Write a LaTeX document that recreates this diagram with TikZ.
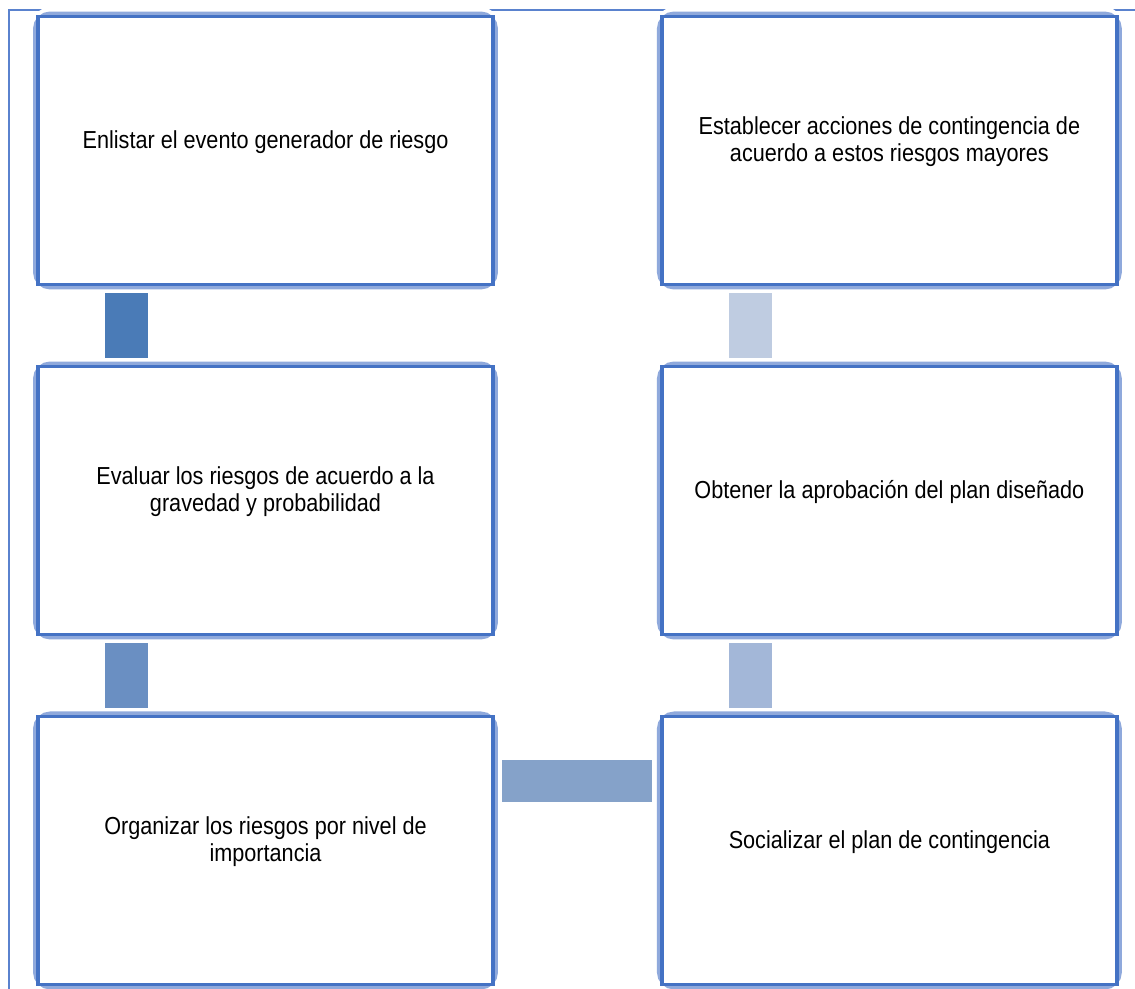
\documentclass[tikz,border=0pt]{standalone}
\usepackage{fontspec}
\setmainfont{Liberation Sans}[FakeStretch=0.88]
\usetikzlibrary{positioning}
\definecolor{borde}{HTML}{4472C4}
\definecolor{halo}{HTML}{8FA9DC}
\definecolor{marco}{HTML}{5A82CE}
\definecolor{pasoA}{HTML}{4A7BB7}
\definecolor{pasoB}{HTML}{6A8FC2}
\definecolor{pasoC}{HTML}{85A2C9}
\definecolor{pasoD}{HTML}{A3B7D8}
\definecolor{pasoE}{HTML}{BFCCE1}

\begin{document}
\begin{tikzpicture}[x = 0.02cm, y = -0.02cm,
    caja/.style = {draw = halo, line width = 5.7pt, rounded corners = 7pt, fill = white,
        preaction = {draw = white, line width = 10.2pt},
        minimum width = \ancho pt, minimum height = \alto pt,
        inner sep = 0pt, outer sep = 0pt},
    filo/.style = {draw = borde, fill = white, line width = 2.2pt},
    texto/.style = {align = center, inner sep = 0pt, font = \fontsize{14}{15.5}\selectfont}]
    % Parametri (in pt)
    \pgfmathsetmacro{\ancho}{258.9}
    \pgfmathsetmacro{\alto}{152.5}
    \pgfmathsetmacro{\sepv}{46.7}
    \pgfmathsetmacro{\seph}{96.2}
    \useasboundingbox (0,0) rectangle (1135,989);
    % Marco
    \draw[marco, line width = 0.85pt] (9,989) -- (9,10) -- (1135,10);
    % Cajas
    \node[caja] (b1) at (265.5,150.5) {};
    \node[caja, below = \sepv pt of b1] (b2) {};
    \node[caja, below = \sepv pt of b2] (b3) {};
    \node[caja, right = \seph pt of b3] (b4) {};
    \node[caja, above = \sepv pt of b4] (b5) {};
    \node[caja, above = \sepv pt of b5] (b6) {};
    \foreach \i in {1,...,6} {
        \draw[filo] (b\i.north west) rectangle (b\i.south east);
    }
    % Textos
    \node[texto] (t1) at ([yshift = 5pt]b1.center) {Enlistar el evento generador de riesgo};
    \node[texto] (t2) at ([yshift = 5pt]b2.center) {Evaluar los riesgos de acuerdo a la\\gravedad y probabilidad};
    \node[texto] (t3) at ([yshift = 5pt]b3.center) {Organizar los riesgos por nivel de\\importancia};
    \node[texto] (t4) at ([yshift = 5pt]b4.center) {Socializar el plan de contingencia};
    \node[texto] (t5) at ([yshift = 5pt]b5.center) {Obtener la aprobación del plan diseñado};
    \node[texto] (t6) at ([yshift = 5pt]b6.center) {Establecer acciones de contingencia de\\acuerdo a estos riesgos mayores};
    % Enlaces
    \foreach \a/\b/\c in {b1/b2/pasoA, b2/b3/pasoB, b5/b4/pasoD, b6/b5/pasoE} {
        \fill[\c] ([xshift = 38.1pt, yshift = -4.6pt]\a.south west)
            rectangle ([xshift = 62.6pt, yshift = 5.1pt]\b.north west);
    }
    \fill[pasoC] ([xshift = 5pt, yshift = -24.5pt]b3.north east)
        rectangle ([xshift = -5.7pt, yshift = -48.4pt]b4.north west);
\end{tikzpicture}
\end{document}
